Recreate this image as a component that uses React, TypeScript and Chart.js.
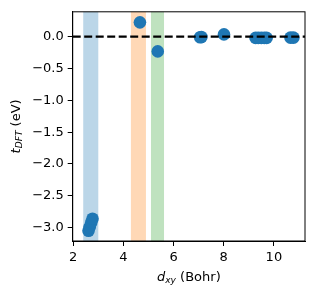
import React, { useEffect, useRef } from 'react';
import { Chart, registerables } from 'chart.js';

Chart.register(...registerables);

// ---- data ----
const xValues = [2.61, 2.66, 2.72, 2.77, 4.66, 5.37, 7.06, 7.11, 8.01, 9.27, 9.38, 9.5, 9.62, 9.71, 10.66, 10.78];
const yValues = [-3.05, -2.99, -2.92, -2.86, 0.224, -0.232, -0.01, -0.005, 0.035, -0.02, -0.02, -0.02, -0.02, -0.02, -0.015, -0.015];
const bandStarts = [2.4, 4.3, 5.1];
const bandEnds = [3.0, 4.9, 5.62];
const bandColors = ['rgba(31,119,180,0.3)', 'rgba(255,127,14,0.3)', 'rgba(44,160,44,0.3)'];
const xTicks = [2, 4, 6, 8, 10];
const yTicks = [0, -0.5, -1.0, -1.5, -2.0, -2.5, -3.0];
const X_MIN = 1.98;
const X_MAX = 11.24;
const Y_MIN = -3.21;
const Y_MAX = 0.39;
const refLineY = 0;

const FAM = '"DejaVu Sans", sans-serif';
const FS = 13;

type Part = { text: string; font: string; dy: number };

function drawRich(ctx: CanvasRenderingContext2D, parts: Part[]) {
  let total = 0;
  const widths = parts.map((p) => {
    ctx.font = p.font;
    const w = ctx.measureText(p.text).width;
    total += w;
    return w;
  });
  let x = -total / 2;
  parts.forEach((p, i) => {
    ctx.font = p.font;
    ctx.fillText(p.text, x, p.dy);
    x += widths[i];
  });
}

const customPlugin = {
  id: 'customDecor',
  beforeDatasetsDraw(chart: any) {
    const { ctx, chartArea } = chart;
    const xs = chart.scales.x;
    ctx.save();
    bandStarts.forEach((s, i) => {
      const x0 = xs.getPixelForValue(s);
      const x1 = xs.getPixelForValue(bandEnds[i]);
      ctx.fillStyle = bandColors[i];
      ctx.fillRect(x0, chartArea.top, x1 - x0, chartArea.bottom - chartArea.top);
    });
    ctx.restore();
  },
  afterDraw(chart: any) {
    const { ctx, chartArea } = chart;
    ctx.save();
    ctx.strokeStyle = '#000';
    ctx.lineWidth = 1;
    ctx.strokeRect(chartArea.left, chartArea.top, chartArea.right - chartArea.left, chartArea.bottom - chartArea.top);
    ctx.fillStyle = '#000';
    ctx.textBaseline = 'alphabetic';
    ctx.textAlign = 'left';
    // x title
    ctx.save();
    ctx.translate((chartArea.left + chartArea.right) / 2, 280.5);
    drawRich(ctx, [
      { text: 'd', font: `italic ${FS}px ${FAM}`, dy: 0 },
      { text: 'xy', font: `italic ${FS * 0.7}px ${FAM}`, dy: 2.3 },
      { text: ' (Bohr)', font: `${FS}px ${FAM}`, dy: 0 },
    ]);
    ctx.restore();
    // y title
    ctx.save();
    ctx.translate(19.5, (chartArea.top + chartArea.bottom) / 2);
    ctx.rotate(-Math.PI / 2);
    drawRich(ctx, [
      { text: 't', font: `italic ${FS}px ${FAM}`, dy: 0 },
      { text: 'DFT', font: `italic ${FS * 0.7}px ${FAM}`, dy: 2.3 },
      { text: ' (eV)', font: `${FS}px ${FAM}`, dy: 0 },
    ]);
    ctx.restore();
    ctx.restore();
  },
};

function fmtY(v: number) {
  const a = Math.abs(v).toFixed(1);
  return v < -1e-9 ? '\u2212' + a : a;
}

export default function App() {
  const ref = useRef<HTMLCanvasElement | null>(null);
  useEffect(() => {
    if (!ref.current) return;
    const points = xValues.map((x, i) => ({ x, y: yValues[i] }));
    const chart = new Chart(ref.current, {
      type: 'scatter',
      data: {
        datasets: [
          {
            type: 'line',
            data: [
              { x: X_MIN, y: refLineY },
              { x: X_MAX, y: refLineY },
            ],
            borderColor: '#000',
            borderWidth: 2.2,
            borderDash: [8, 3.5],
            pointRadius: 0,
            fill: false,
          } as any,
          {
            data: points,
            backgroundColor: '#1f77b4',
            borderColor: '#1f77b4',
            borderWidth: 0,
            pointRadius: 6.3,
          },
        ],
      },
      options: {
        responsive: false,
        animation: false,
        devicePixelRatio: 1,
        layout: { padding: { top: 10, right: 11, left: 0, bottom: 0 } },
        plugins: { legend: { display: false }, tooltip: { enabled: false } },
        scales: {
          x: {
            type: 'linear',
            min: X_MIN,
            max: X_MAX,
            afterBuildTicks: (s: any) => {
              s.ticks = xTicks.map((v) => ({ value: v }));
            },
            afterFit: (s: any) => {
              s.height = 56;
            },
            ticks: {
              autoSkip: false,
              maxRotation: 0,
              color: '#000',
              padding: 4,
              font: { family: FAM, size: FS },
              callback: (v: any) => String(v),
            },
            grid: { drawOnChartArea: false, tickLength: 5, color: '#000', tickWidth: 1 },
            border: { color: '#000', width: 1 },
          },
          y: {
            type: 'linear',
            min: Y_MIN,
            max: Y_MAX,
            afterBuildTicks: (s: any) => {
              s.ticks = yTicks.map((v) => ({ value: v }));
            },
            afterFit: (s: any) => {
              s.width = 72.7;
            },
            ticks: {
              autoSkip: false,
              color: '#000',
              padding: 4,
              font: { family: FAM, size: FS },
              callback: (v: any) => fmtY(Number(v)),
            },
            grid: { drawOnChartArea: false, tickLength: 5, color: '#000', tickWidth: 1 },
            border: { color: '#000', width: 1 },
          },
        },
      },
      plugins: [customPlugin],
    });
    return () => chart.destroy();
  }, []);
  return (
    <div style={{ position: 'fixed', left: 0, top: 0, width: 316, height: 297, background: '#fff' }}>
      <canvas ref={ref} width={316} height={297} style={{ display: 'block' }} />
    </div>
  );
}
